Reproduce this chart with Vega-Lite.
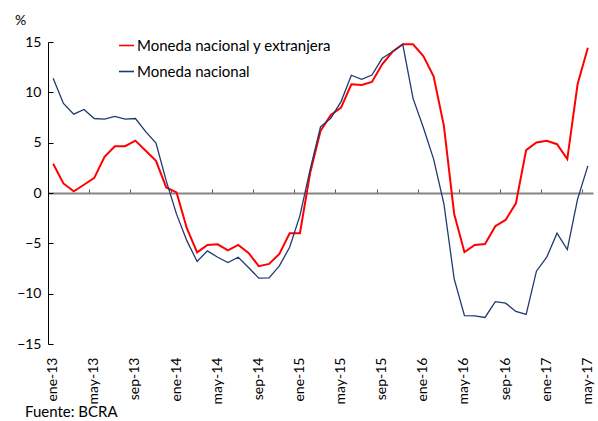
{
  "$schema": "https://vega.github.io/schema/vega-lite/v6.json",
  "width": 545,
  "height": 302,
  "autosize": "none",
  "padding": {"left": 48, "top": 42, "right": 5, "bottom": 77},
  "background": "white",
  "config": {
    "font": "Lato",
    "view": {"stroke": null},
    "axis": {"grid": false, "labelFont": "Lato", "titleFont": "Lato"},
    "legend": {"labelFont": "Lato"}
  },
  "title": {
    "text": "Fuente: BCRA",
    "orient": "bottom",
    "anchor": "start",
    "frame": "group",
    "font": "Lato",
    "fontSize": 15,
    "fontWeight": "normal",
    "color": "#000000",
    "baseline": "top",
    "dx": -23,
    "offset": 1
  },
  "datasets": {
    "series": [
      {"mes": "ene-13", "i": 0, "serie": "Moneda nacional y extranjera", "v": 2.9},
      {"mes": "feb-13", "i": 1, "serie": "Moneda nacional y extranjera", "v": 0.95},
      {"mes": "mar-13", "i": 2, "serie": "Moneda nacional y extranjera", "v": 0.16},
      {"mes": "abr-13", "i": 3, "serie": "Moneda nacional y extranjera", "v": 0.82},
      {"mes": "may-13", "i": 4, "serie": "Moneda nacional y extranjera", "v": 1.5},
      {"mes": "jun-13", "i": 5, "serie": "Moneda nacional y extranjera", "v": 3.6},
      {"mes": "jul-13", "i": 6, "serie": "Moneda nacional y extranjera", "v": 4.65},
      {"mes": "ago-13", "i": 7, "serie": "Moneda nacional y extranjera", "v": 4.65},
      {"mes": "sep-13", "i": 8, "serie": "Moneda nacional y extranjera", "v": 5.2},
      {"mes": "oct-13", "i": 9, "serie": "Moneda nacional y extranjera", "v": 4.2},
      {"mes": "nov-13", "i": 10, "serie": "Moneda nacional y extranjera", "v": 3.2},
      {"mes": "dic-13", "i": 11, "serie": "Moneda nacional y extranjera", "v": 0.55},
      {"mes": "ene-14", "i": 12, "serie": "Moneda nacional y extranjera", "v": 0.06},
      {"mes": "feb-14", "i": 13, "serie": "Moneda nacional y extranjera", "v": -3.5},
      {"mes": "mar-14", "i": 14, "serie": "Moneda nacional y extranjera", "v": -5.9},
      {"mes": "abr-14", "i": 15, "serie": "Moneda nacional y extranjera", "v": -5.16},
      {"mes": "may-14", "i": 16, "serie": "Moneda nacional y extranjera", "v": -5.1},
      {"mes": "jun-14", "i": 17, "serie": "Moneda nacional y extranjera", "v": -5.7},
      {"mes": "jul-14", "i": 18, "serie": "Moneda nacional y extranjera", "v": -5.16},
      {"mes": "ago-14", "i": 19, "serie": "Moneda nacional y extranjera", "v": -5.95},
      {"mes": "sep-14", "i": 20, "serie": "Moneda nacional y extranjera", "v": -7.27},
      {"mes": "oct-14", "i": 21, "serie": "Moneda nacional y extranjera", "v": -7.04},
      {"mes": "nov-14", "i": 22, "serie": "Moneda nacional y extranjera", "v": -6.05},
      {"mes": "dic-14", "i": 23, "serie": "Moneda nacional y extranjera", "v": -4.0},
      {"mes": "ene-15", "i": 24, "serie": "Moneda nacional y extranjera", "v": -4.0},
      {"mes": "feb-15", "i": 25, "serie": "Moneda nacional y extranjera", "v": 2.04},
      {"mes": "mar-15", "i": 26, "serie": "Moneda nacional y extranjera", "v": 6.17},
      {"mes": "abr-15", "i": 27, "serie": "Moneda nacional y extranjera", "v": 7.76},
      {"mes": "may-15", "i": 28, "serie": "Moneda nacional y extranjera", "v": 8.48},
      {"mes": "jun-15", "i": 29, "serie": "Moneda nacional y extranjera", "v": 10.8},
      {"mes": "jul-15", "i": 30, "serie": "Moneda nacional y extranjera", "v": 10.73},
      {"mes": "ago-15", "i": 31, "serie": "Moneda nacional y extranjera", "v": 11.03},
      {"mes": "sep-15", "i": 32, "serie": "Moneda nacional y extranjera", "v": 12.78},
      {"mes": "oct-15", "i": 33, "serie": "Moneda nacional y extranjera", "v": 14.03},
      {"mes": "nov-15", "i": 34, "serie": "Moneda nacional y extranjera", "v": 14.77},
      {"mes": "dic-15", "i": 35, "serie": "Moneda nacional y extranjera", "v": 14.77},
      {"mes": "ene-16", "i": 36, "serie": "Moneda nacional y extranjera", "v": 13.6},
      {"mes": "feb-16", "i": 37, "serie": "Moneda nacional y extranjera", "v": 11.6},
      {"mes": "mar-16", "i": 38, "serie": "Moneda nacional y extranjera", "v": 6.67},
      {"mes": "abr-16", "i": 39, "serie": "Moneda nacional y extranjera", "v": -2.08},
      {"mes": "may-16", "i": 40, "serie": "Moneda nacional y extranjera", "v": -5.88},
      {"mes": "jun-16", "i": 41, "serie": "Moneda nacional y extranjera", "v": -5.16},
      {"mes": "jul-16", "i": 42, "serie": "Moneda nacional y extranjera", "v": -5.06},
      {"mes": "ago-16", "i": 43, "serie": "Moneda nacional y extranjera", "v": -3.3},
      {"mes": "sep-16", "i": 44, "serie": "Moneda nacional y extranjera", "v": -2.68},
      {"mes": "oct-16", "i": 45, "serie": "Moneda nacional y extranjera", "v": -1.03},
      {"mes": "nov-16", "i": 46, "serie": "Moneda nacional y extranjera", "v": 4.26},
      {"mes": "dic-16", "i": 47, "serie": "Moneda nacional y extranjera", "v": 5.02},
      {"mes": "ene-17", "i": 48, "serie": "Moneda nacional y extranjera", "v": 5.18},
      {"mes": "feb-17", "i": 49, "serie": "Moneda nacional y extranjera", "v": 4.85},
      {"mes": "mar-17", "i": 50, "serie": "Moneda nacional y extranjera", "v": 3.37},
      {"mes": "abr-17", "i": 51, "serie": "Moneda nacional y extranjera", "v": 10.8},
      {"mes": "may-17", "i": 52, "serie": "Moneda nacional y extranjera", "v": 14.43},
      {"mes": "ene-13", "i": 0, "serie": "Moneda nacional", "v": 11.4},
      {"mes": "feb-13", "i": 1, "serie": "Moneda nacional", "v": 8.9},
      {"mes": "mar-13", "i": 2, "serie": "Moneda nacional", "v": 7.83},
      {"mes": "abr-13", "i": 3, "serie": "Moneda nacional", "v": 8.3},
      {"mes": "may-13", "i": 4, "serie": "Moneda nacional", "v": 7.4},
      {"mes": "jun-13", "i": 5, "serie": "Moneda nacional", "v": 7.33},
      {"mes": "jul-13", "i": 6, "serie": "Moneda nacional", "v": 7.6},
      {"mes": "ago-13", "i": 7, "serie": "Moneda nacional", "v": 7.33},
      {"mes": "sep-13", "i": 8, "serie": "Moneda nacional", "v": 7.4},
      {"mes": "oct-13", "i": 9, "serie": "Moneda nacional", "v": 6.1},
      {"mes": "nov-13", "i": 10, "serie": "Moneda nacional", "v": 4.95},
      {"mes": "dic-13", "i": 11, "serie": "Moneda nacional", "v": 1.2},
      {"mes": "ene-14", "i": 12, "serie": "Moneda nacional", "v": -2.1},
      {"mes": "feb-14", "i": 13, "serie": "Moneda nacional", "v": -4.73},
      {"mes": "mar-14", "i": 14, "serie": "Moneda nacional", "v": -6.8},
      {"mes": "abr-14", "i": 15, "serie": "Moneda nacional", "v": -5.75},
      {"mes": "may-14", "i": 16, "serie": "Moneda nacional", "v": -6.38},
      {"mes": "jun-14", "i": 17, "serie": "Moneda nacional", "v": -6.9},
      {"mes": "jul-14", "i": 18, "serie": "Moneda nacional", "v": -6.38},
      {"mes": "ago-14", "i": 19, "serie": "Moneda nacional", "v": -7.4},
      {"mes": "sep-14", "i": 20, "serie": "Moneda nacional", "v": -8.46},
      {"mes": "oct-14", "i": 21, "serie": "Moneda nacional", "v": -8.43},
      {"mes": "nov-14", "i": 22, "serie": "Moneda nacional", "v": -7.24},
      {"mes": "dic-14", "i": 23, "serie": "Moneda nacional", "v": -5.39},
      {"mes": "ene-15", "i": 24, "serie": "Moneda nacional", "v": -2.25},
      {"mes": "feb-15", "i": 25, "serie": "Moneda nacional", "v": 2.38},
      {"mes": "mar-15", "i": 26, "serie": "Moneda nacional", "v": 6.57},
      {"mes": "abr-15", "i": 27, "serie": "Moneda nacional", "v": 7.43},
      {"mes": "may-15", "i": 28, "serie": "Moneda nacional", "v": 9.08},
      {"mes": "jun-15", "i": 29, "serie": "Moneda nacional", "v": 11.7},
      {"mes": "jul-15", "i": 30, "serie": "Moneda nacional", "v": 11.3},
      {"mes": "ago-15", "i": 31, "serie": "Moneda nacional", "v": 11.72},
      {"mes": "sep-15", "i": 32, "serie": "Moneda nacional", "v": 13.38},
      {"mes": "oct-15", "i": 33, "serie": "Moneda nacional", "v": 14.03},
      {"mes": "nov-15", "i": 34, "serie": "Moneda nacional", "v": 14.77},
      {"mes": "dic-15", "i": 35, "serie": "Moneda nacional", "v": 9.4},
      {"mes": "ene-16", "i": 36, "serie": "Moneda nacional", "v": 6.5},
      {"mes": "feb-16", "i": 37, "serie": "Moneda nacional", "v": 3.37},
      {"mes": "mar-16", "i": 38, "serie": "Moneda nacional", "v": -1.07},
      {"mes": "abr-16", "i": 39, "serie": "Moneda nacional", "v": -8.53},
      {"mes": "may-16", "i": 40, "serie": "Moneda nacional", "v": -12.19},
      {"mes": "jun-16", "i": 41, "serie": "Moneda nacional", "v": -12.2},
      {"mes": "jul-16", "i": 42, "serie": "Moneda nacional", "v": -12.36},
      {"mes": "ago-16", "i": 43, "serie": "Moneda nacional", "v": -10.8},
      {"mes": "sep-16", "i": 44, "serie": "Moneda nacional", "v": -10.94},
      {"mes": "oct-16", "i": 45, "serie": "Moneda nacional", "v": -11.77},
      {"mes": "nov-16", "i": 46, "serie": "Moneda nacional", "v": -12.06},
      {"mes": "dic-16", "i": 47, "serie": "Moneda nacional", "v": -7.77},
      {"mes": "ene-17", "i": 48, "serie": "Moneda nacional", "v": -6.38},
      {"mes": "feb-17", "i": 49, "serie": "Moneda nacional", "v": -4.0},
      {"mes": "mar-17", "i": 50, "serie": "Moneda nacional", "v": -5.62},
      {"mes": "abr-17", "i": 51, "serie": "Moneda nacional", "v": -0.6},
      {"mes": "may-17", "i": 52, "serie": "Moneda nacional", "v": 2.7}
    ]
  },
  "data": {"name": "series"},
  "encoding": {
    "x": {
      "field": "mes",
      "type": "ordinal",
      "sort": {"field": "i", "op": "min"},
      "bandPosition": 0.5,
      "scale": {"type": "band", "paddingInner": 0, "paddingOuter": 0},
      "axis": {
        "title": null,
        "orient": "bottom",
        "offset": -151,
        "values": ["ene-13", "may-13", "sep-13", "ene-14", "may-14", "sep-14", "ene-15", "may-15", "sep-15", "ene-16", "may-16", "sep-16", "ene-17", "may-17"],
        "bandPosition": 0,
        "domain": true,
        "domainColor": "#868686",
        "domainWidth": 2,
        "ticks": true,
        "tickColor": "#555555",
        "tickWidth": 1,
        "tickSize": -4,
        "labelAngle": -90,
        "labelAlign": "right",
        "labelBaseline": "middle",
        "labelPadding": 168,
        "labelFontSize": 14,
        "labelColor": "#000000"
      }
    },
    "y": {
      "field": "v",
      "type": "quantitative",
      "scale": {"domain": [-15, 15], "nice": false, "zero": false},
      "axis": {
        "values": [-15, -10, -5, 0, 5, 10, 15],
        "title": "%",
        "titleAngle": 0,
        "titleX": -28,
        "titleY": -22,
        "titleAlign": "center",
        "titleBaseline": "middle",
        "titleFontSize": 14,
        "titleFontWeight": "normal",
        "titleColor": "#000000",
        "domainColor": "#000000",
        "domainWidth": 1,
        "tickColor": "#000000",
        "tickSize": -5,
        "labelPadding": 12,
        "labelFontSize": 14,
        "labelColor": "#000000"
      }
    },
    "color": {
      "field": "serie",
      "type": "nominal",
      "scale": {"domain": ["Moneda nacional y extranjera", "Moneda nacional"], "range": ["#FF0000", "#1F3A70"]},
      "legend": {
        "title": null,
        "orient": "none",
        "legendX": 70,
        "legendY": -5,
        "direction": "vertical",
        "symbolType": "stroke",
        "symbolSize": 225,
        "symbolStrokeWidth": 1.6,
        "labelFontSize": 15,
        "labelColor": "#000000",
        "labelOffset": 2,
        "labelLimit": 400,
        "rowPadding": 9,
        "padding": 0
      }
    }
  },
  "layer": [
    {
      "transform": [{"filter": "datum.serie === 'Moneda nacional y extranjera'"}],
      "mark": {"type": "line", "strokeWidth": 2}
    },
    {
      "transform": [{"filter": "datum.serie === 'Moneda nacional'"}],
      "mark": {"type": "line", "strokeWidth": 1.3}
    }
  ]
}
